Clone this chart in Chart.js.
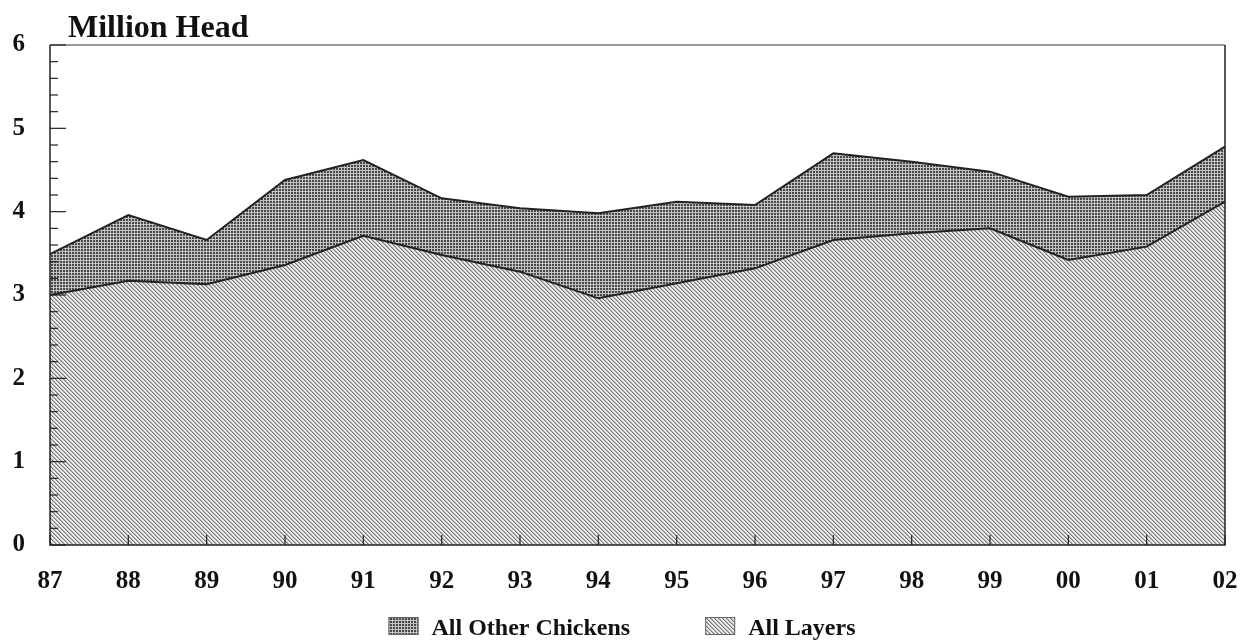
<!DOCTYPE html>
<html>
<head>
<meta charset="utf-8">
<style>
  html, body { margin: 0; padding: 0; background: #fff; overflow: hidden; }
  #wrap { width: 1240px; height: 640px; }
</style>
<script src="https://cdn.jsdelivr.net/npm/chart.js@4/dist/chart.umd.min.js"></script>
</head>
<body>
<div id="wrap"><canvas id="chickenChart" width="1240" height="640"></canvas></div>
<script>
// Year labels (19xx / 20xx)
var years = ['87', '88', '89', '90', '91', '92', '93', '94', '95', '96', '97', '98', '99', '00', '01', '02'];

// Million head
var allLayers = [3.00, 3.17, 3.13, 3.36, 3.71, 3.48, 3.28, 2.96, 3.14, 3.32, 3.66, 3.74, 3.80, 3.42, 3.58, 4.12];
var allOtherChickens = [0.49, 0.79, 0.53, 1.02, 0.91, 0.68, 0.76, 1.02, 0.98, 0.76, 1.04, 0.86, 0.68, 0.76, 0.62, 0.66];

var seriesNames = ['All Layers', 'All Other Chickens'];
var chartTitle = 'Million Head';

var serif = "'Liberation Serif', 'DejaVu Serif', serif";

var canvas = document.getElementById('chickenChart');
var ctx = canvas.getContext('2d');

// small tiles for the hatch fills
function makeHatch() {
    var t = document.createElement('canvas');
    t.width = 4; t.height = 4;
    var c = t.getContext('2d');
    c.fillStyle = '#ececec';
    c.fillRect(0, 0, 4, 4);
    for (var i = 0; i < 4; i++) {
        c.fillStyle = '#7a7a7a';
        c.fillRect(i, i, 1, 1);
        c.fillStyle = '#b4b4b4';
        c.fillRect((i + 1) % 4, i, 1, 1);
    }
    return ctx.createPattern(t, 'repeat');
}

function makeDots() {
    var t = document.createElement('canvas');
    t.width = 3; t.height = 3;
    var c = t.getContext('2d');
    c.fillStyle = '#c2c2c2';
    c.fillRect(0, 0, 3, 3);
    c.fillStyle = '#484848';
    c.fillRect(0, 0, 2, 2);
    return ctx.createPattern(t, 'repeat');
}

var hatchFill = makeHatch();
var dotFill = makeDots();

// frame, inner ticks, title and legend
var decorPlugin = {
    id: 'decor',
    afterDatasetsDraw: function(chart) {
        var a = chart.chartArea;
        var c = chart.ctx;
        var y = chart.scales.y;
        var x = chart.scales.x;
        c.save();
        // frame
        c.lineWidth = 1.5;
        c.strokeStyle = '#777';
        c.beginPath();
        c.moveTo(a.left, a.top);
        c.lineTo(a.right, a.top);
        c.stroke();
        c.strokeStyle = '#222';
        c.beginPath();
        c.moveTo(a.right, a.top);
        c.lineTo(a.right, a.bottom);
        c.lineTo(a.left, a.bottom);
        c.lineTo(a.left, a.top);
        c.stroke();
        // y ticks pointing inward
        c.lineWidth = 1.2;
        y.ticks.forEach(function(t) {
            var py = y.getPixelForValue(t.value);
            var major = Math.abs(t.value - Math.round(t.value)) < 1e-6;
            c.beginPath();
            c.moveTo(a.left, py);
            c.lineTo(a.left + (major ? 16 : 8), py);
            c.stroke();
        });
        // x ticks pointing up
        years.forEach(function(lbl, i) {
            var px = x.getPixelForValue(i);
            c.beginPath();
            c.moveTo(px, a.bottom);
            c.lineTo(px, a.bottom - 10);
            c.stroke();
        });
        c.restore();
    },
    afterDraw: function(chart) {
        var a = chart.chartArea;
        var c = chart.ctx;
        c.save();
        c.fillStyle = '#111';
        c.textBaseline = 'alphabetic';
        c.textAlign = 'left';
        c.font = 'bold 32px ' + serif;
        c.fillText(chartTitle, a.left + 18, a.top - 8);

        // legend, top series first
        c.font = 'bold 24px ' + serif;
        var items = chart.data.datasets.slice().reverse();
        var boxW = 30, boxH = 18, gap = 13, spacing = 75;
        var total = 0;
        items.forEach(function(ds, i) {
            total += boxW + gap + c.measureText(ds.label).width + (i ? spacing : 0);
        });
        var cx = chart.width / 2 + 2 - total / 2;
        var base = chart.height - 5;
        items.forEach(function(ds) {
            c.fillStyle = ds.backgroundColor;
            c.fillRect(cx, base - boxH, boxW, boxH);
            c.strokeStyle = '#666';
            c.lineWidth = 1;
            c.strokeRect(cx + 0.5, base - boxH + 0.5, boxW - 1, boxH - 1);
            c.fillStyle = '#111';
            c.fillText(ds.label, cx + boxW + gap, base);
            cx += boxW + gap + c.measureText(ds.label).width + spacing;
        });
        c.restore();
    }
};

new Chart(ctx, {
    type: 'line',
    data: {
        labels: years,
        datasets: [{
            label: seriesNames[0],
            data: allLayers,
            backgroundColor: hatchFill,
            borderColor: '#222',
            borderWidth: 2,
            pointRadius: 0,
            fill: 'origin'
        }, {
            label: seriesNames[1],
            data: allOtherChickens,
            backgroundColor: dotFill,
            borderColor: '#222',
            borderWidth: 2,
            pointRadius: 0,
            fill: '-1'
        }]
    },
    options: {
        responsive: false,
        animation: false,
        layout: { padding: { top: 45, right: 15, bottom: 0, left: 0 } },
        plugins: {
            legend: { display: false },
            title: { display: false },
            tooltip: { enabled: false }
        },
        scales: {
            x: {
                offset: false,
                grid: { display: false, drawTicks: true, tickLength: 20 },
                border: { display: false },
                ticks: {
                    padding: 2,
                    color: '#111',
                    maxRotation: 0,
                    autoSkip: false,
                    font: { family: serif, size: 25, weight: 'bold' }
                },
                afterFit: function(scale) { scale.height = 95; }
            },
            y: {
                stacked: true,
                min: 0,
                max: 6,
                grid: { display: false, drawTicks: false },
                border: { display: false },
                ticks: {
                    stepSize: 0.2,
                    autoSkip: false,
                    padding: 25,
                    color: '#111',
                    font: { family: serif, size: 25, weight: 'bold' },
                    callback: function(v) {
                        return Math.abs(v - Math.round(v)) < 1e-6 ? Math.round(v) : '';
                    }
                },
                afterFit: function(scale) { scale.width = 50; }
            }
        }
    },
    plugins: [decorPlugin]
});
</script>
</body>
</html>
